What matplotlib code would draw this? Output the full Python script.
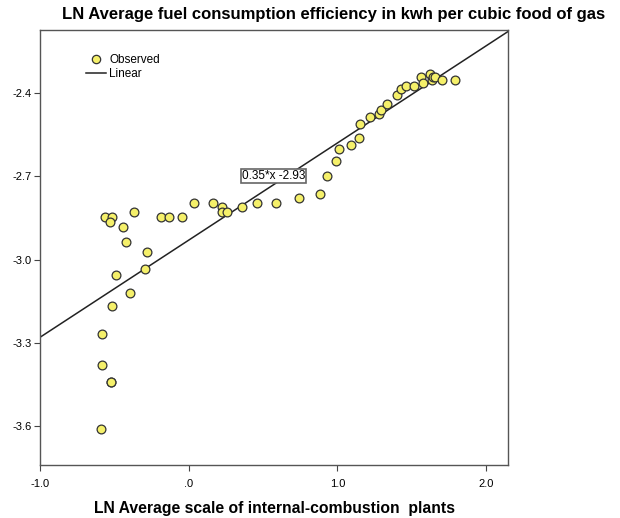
import numpy as np
import matplotlib
matplotlib.use('Agg')
import matplotlib.pyplot as plt
from matplotlib.lines import Line2D

plt.rcParams['font.family'] = ['Liberation Sans', 'DejaVu Sans']

x_obs = [-0.563, -0.518, -0.529, -0.440, -0.366, -0.186, -0.132, -0.047, 0.036, 0.161,
         0.222, 0.222, 0.260, 0.360, 0.457, 0.585, 0.742, 0.883, 0.928, 0.989,
         1.011, 1.089, 1.143, 1.150, 1.219, 1.280, 1.291, 1.336, 1.399, 1.428,
         1.461, 1.517, 1.560, 1.578, 1.623, 1.635, 1.645, 1.656, 1.701, 1.791,
         -0.424, -0.280, -0.294, -0.487, -0.397, -0.518, -0.581, -0.581, -0.525, -0.523,
         -0.592]
y_obs = [-2.845, -2.845, -2.863, -2.881, -2.829, -2.845, -2.845, -2.845, -2.795, -2.795,
         -2.809, -2.827, -2.827, -2.812, -2.795, -2.795, -2.778, -2.763, -2.700, -2.644,
         -2.602, -2.588, -2.561, -2.511, -2.486, -2.475, -2.462, -2.440, -2.406, -2.386,
         -2.374, -2.374, -2.341, -2.364, -2.330, -2.354, -2.341, -2.342, -2.352, -2.352,
         -2.935, -2.974, -3.034, -3.055, -3.121, -3.167, -3.267, -3.378, -3.440, -3.440,
         -3.609]

# linear fit
slope = 0.35
intercept = -2.93

x_ticks = [-1.0, 0.0, 1.0, 2.0]
x_labels = ['-1.0', '.0', '1.0', '2.0']
y_ticks = [-2.4, -2.7, -3.0, -3.3, -3.6]
y_labels = ['-2.4', '-2.7', '-3.0', '-3.3', '-3.6']

fig = plt.figure(figsize=(6.2, 5.18), dpi=100)
ax = fig.add_axes([40/620, 1 - 465/518, 468/620, 435/518])

xlim = (-1.0, 2.147)
ylim = (-3.74, -2.173)
ax.set_xlim(*xlim)
ax.set_ylim(*ylim)

dot_fc = '#f5f06a'
dot_ec = '#333333'

xs = np.array(xlim)
ax.plot(xs, slope * xs + intercept, color='#222222', lw=1.1, zorder=2)
ax.scatter(x_obs, y_obs, s=40, facecolor=dot_fc, edgecolor=dot_ec,
           linewidths=0.9, zorder=3)

ax.set_xticks(x_ticks)
ax.set_xticklabels(x_labels)
ax.set_yticks(y_ticks)
ax.set_yticklabels(y_labels)
ax.tick_params(direction='out', length=4, width=0.8, labelsize=8, color='#444444', pad=2)
ax.tick_params(axis='x', pad=6)
for s in ax.spines.values():
    s.set_color('#555555')
    s.set_linewidth(1.0)

# equation label
ax.text(0.57, -2.70, '0.35*x -2.93', fontsize=8.5, ha='center', va='center',
        bbox=dict(boxstyle='square,pad=0.1', fc='white', ec='#666666', lw=1.2), zorder=4)

handles = [Line2D([], [], marker='o', ls='none', markersize=6, markerfacecolor=dot_fc,
                  markeredgecolor=dot_ec, markeredgewidth=0.9),
           Line2D([], [], color='#222222', lw=1.1)]
ax.legend(handles, ['Observed', 'Linear'], loc='upper left',
          bbox_to_anchor=(86/620, 1 - 54/518), bbox_transform=fig.transFigure,
          frameon=False, fontsize=8.5, handlelength=1.7, handletextpad=0.25,
          labelspacing=0.2, borderaxespad=0, borderpad=0)

fig.text(62/620, 1 - 14/518, 'LN Average fuel consumption efficiency in kwh per cubic food of gas',
         fontsize=12, fontweight='bold', ha='left', va='center')
fig.text(275/620, 1 - 508/518, 'LN Average scale of internal-combustion  plants',
         fontsize=11.3, fontweight='bold', ha='center', va='center')

fig.savefig('out.png', dpi=100)
